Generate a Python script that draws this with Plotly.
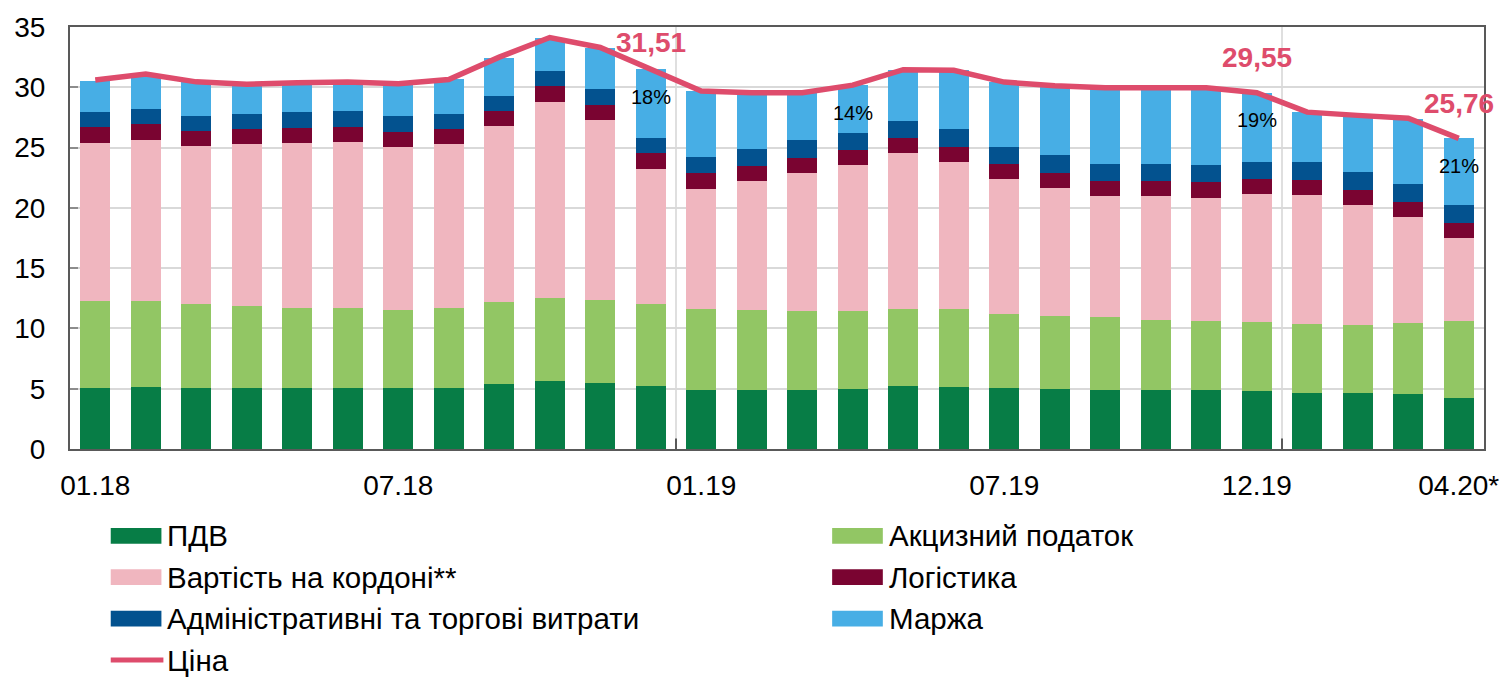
import plotly.graph_objects as go

months = ["01.18", "02.18", "03.18", "04.18", "05.18", "06.18", "07.18", "08.18", "09.18", "10.18",
          "11.18", "12.18", "01.19", "02.19", "03.19", "04.19", "05.19", "06.19", "07.19", "08.19",
          "09.19", "10.19", "11.19", "12.19", "01.20", "02.20", "03.20", "04.20*"]
tick_labels = ["01.18", "07.18", "01.19", "07.19", "12.19", "04.20*"]
tick_months = ["01.18", "07.18", "01.19", "07.19", "12.19", "04.20*"]

vat = [5.02, 5.18, 5.02, 5.02, 5.02, 5.02, 5.02, 5.10, 5.37, 5.67, 5.51, 5.21, 4.91, 4.91,
       4.88, 4.96, 5.21, 5.18, 5.02, 4.96, 4.93, 4.93, 4.93, 4.85, 4.61, 4.61, 4.53, 4.25]
excise = [7.28, 7.12, 7.03, 6.87, 6.70, 6.70, 6.54, 6.62, 6.79, 6.87, 6.84, 6.84, 6.73, 6.62,
          6.60, 6.46, 6.38, 6.46, 6.21, 6.11, 6.03, 5.76, 5.70, 5.65, 5.72, 5.64, 5.88, 6.38]
border = [13.11, 13.33, 13.06, 13.38, 13.66, 13.72, 13.49, 13.55, 14.61, 16.22, 14.97, 11.21, 9.95, 10.72,
          11.42, 12.14, 12.97, 12.19, 11.13, 10.60, 10.01, 10.28, 10.20, 10.66, 10.74, 10.01, 8.84, 6.87]
logistics = [1.28, 1.31, 1.25, 1.28, 1.26, 1.28, 1.26, 1.28, 1.26, 1.31, 1.25, 1.25, 1.28, 1.25,
             1.25, 1.25, 1.26, 1.25, 1.25, 1.26, 1.28, 1.28, 1.28, 1.25, 1.26, 1.25, 1.25, 1.26]
admin = [1.23, 1.22, 1.28, 1.23, 1.28, 1.28, 1.28, 1.23, 1.28, 1.28, 1.28, 1.28, 1.37, 1.42,
         1.45, 1.39, 1.39, 1.45, 1.42, 1.44, 1.41, 1.41, 1.42, 1.42, 1.47, 1.47, 1.47, 1.44]
margin = [2.63, 2.79, 2.81, 2.48, 2.45, 2.43, 2.70, 2.89, 3.14, 2.75, 3.45, 5.72, 5.42, 4.58,
          3.90, 3.95, 4.24, 4.89, 5.37, 5.73, 6.30, 6.30, 6.43, 5.72, 4.14, 4.67, 5.43, 5.56]
price = [30.60, 31.10, 30.45, 30.26, 30.37, 30.43, 30.29, 30.64, 32.50, 34.13, 33.30, 31.51, 29.69, 29.55,
         29.55, 30.18, 31.46, 31.41, 30.43, 30.13, 29.96, 29.96, 29.96, 29.55, 27.94, 27.67, 27.43, 25.76]

price_label_months = ["12.18", "12.19", "04.20*"]
share_label_months = ["12.18", "04.19", "12.19", "04.20*"]
share_labels = ["18%", "14%", "19%", "21%"]
year_breaks_after = ["12.18", "12.19"]

series_names = ["ПДВ", "Акцизний податок", "Вартість на кордоні**", "Логістика",
                "Адміністративні та торгові витрати", "Маржа"]
series_values = [vat, excise, border, logistics, admin, margin]
series_colors = ["#077D46", "#92C664", "#F0B6BF", "#7A0431", "#03528F", "#47AEE5"]
price_name = "Ціна"
price_color = "#DE4C6C"

FONT = "Liberation Sans, Arial, sans-serif"
xi = list(range(len(months)))

fig = go.Figure()
for name, vals, col in zip(series_names, series_values, series_colors):
    fig.add_trace(go.Bar(x=xi, y=vals, name=name, marker=dict(color=col, line=dict(width=0)),
                         width=0.59, showlegend=False))
fig.add_trace(go.Scatter(x=xi, y=price, name=price_name, mode="lines",
                         line=dict(color=price_color, width=5.5), showlegend=False))

# year separators
for m in year_breaks_after:
    xb = months.index(m) + 0.5
    fig.add_shape(type="line", xref="x", yref="y domain", x0=xb, x1=xb, y0=0, y1=1,
                  line=dict(color="#D4D4D4", width=1.5), layer="below")
    fig.add_shape(type="line", xref="x", yref="y domain", x0=xb, x1=xb, y0=0, y1=0.025,
                  line=dict(color="#595959", width=2))

# price labels
price_yshift = [27, 35, 35]
for m, ys in zip(price_label_months, price_yshift):
    i = months.index(m)
    fig.add_annotation(x=i, y=price[i], text="<b>%s</b>" % f"{price[i]:.2f}".replace(".", ","),
                       showarrow=False, yshift=ys, font=dict(family=FONT, size=28, color=price_color))

# margin share labels
for m, t in zip(share_label_months, share_labels):
    i = months.index(m)
    fig.add_annotation(x=i, y=price[i] - 2.3, text=t, showarrow=False,
                       font=dict(family=FONT, size=20, color="#000000"))

# manual legend (two columns)
PL, PW, PB, PH = 70, 1423, 449, 428
col_x = [111, 837]
row_y = [537, 579, 621, 663]
W, H = 1511, 678
entries = list(zip(series_names, series_colors, ["bar"] * 6)) + [(price_name, price_color, "line")]
for k, (name, col, kind) in enumerate(entries):
    cx = col_x[k % 2]
    cy = row_y[k // 2]
    if kind == "bar":
        fig.add_shape(type="rect", xref="paper", yref="paper",
                      x0=(cx - PL) / PW, x1=(cx + 51 - PL) / PW,
                      y0=(PB - (cy + 8)) / PH, y1=(PB - (cy - 8)) / PH,
                      line=dict(width=0), fillcolor=col)
    else:
        fig.add_shape(type="line", xref="paper", yref="paper",
                      x0=(cx - PL) / PW, x1=(cx + 53 - PL) / PW,
                      y0=(PB - cy) / PH, y1=(PB - cy) / PH,
                      line=dict(color=col, width=5))
    fig.add_annotation(xref="paper", yref="paper", x=(cx + 55 - PL) / PW, y=(PB - cy) / PH,
                       text=name, showarrow=False, xanchor="left", yanchor="middle",
                       font=dict(family=FONT, size=29.5, color="#000000"))

fig.update_layout(
    width=W, height=H,
    margin=dict(l=70, r=18, t=21, b=229),
    paper_bgcolor="white", plot_bgcolor="white",
    barmode="stack",
    font=dict(family=FONT, size=28, color="#000000"),
    showlegend=False,
)
fig.update_xaxes(range=[-0.5, len(months) - 0.5],
                 tickvals=[months.index(m) for m in tick_months], ticktext=tick_labels,
                 showgrid=False, showline=True, linecolor="#595959", linewidth=2, mirror=True,
                 ticks="", ticklabelstandoff=10, tickfont=dict(size=28))
fig.update_yaxes(range=[0, 35], dtick=5, showgrid=True, gridcolor="#D9D9D9", gridwidth=1.5,
                 showline=True, linecolor="#595959", linewidth=2, mirror=True,
                 ticks="inside", ticklen=8, tickcolor="#8C8C8C", tickwidth=2,
                 ticklabelstandoff=17, tickfont=dict(size=28), zeroline=False)

fig.write_html("out.html", config={"displayModeBar": False},
               post_script="document.body.style.margin='0';document.body.style.overflow='hidden';")
